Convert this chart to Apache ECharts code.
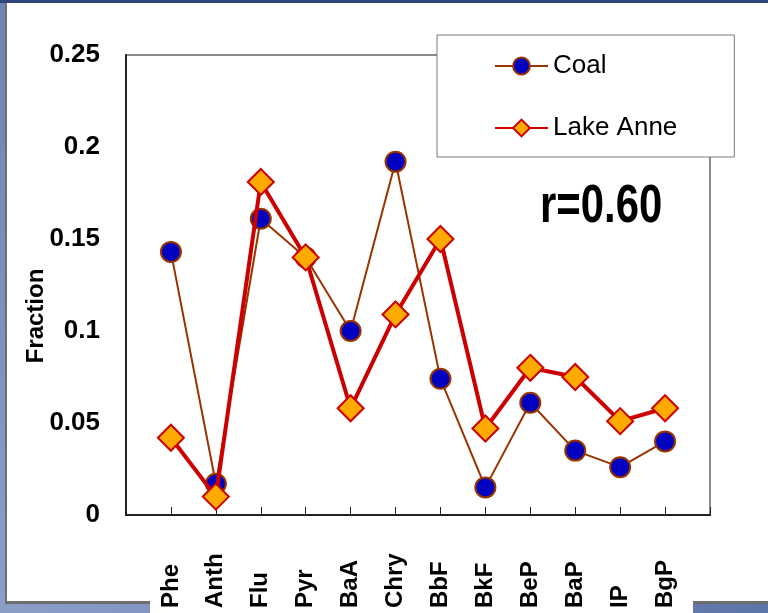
<!DOCTYPE html>
<html>
<head>
<meta charset="utf-8">
<script src="https://cdn.jsdelivr.net/npm/echarts@6/dist/echarts.min.js"></script>
<style>
html,body{margin:0;padding:0;background:#5a72a8;}
#chart{width:768px;height:613px;}
</style>
</head>
<body>
<div id="chart"></div>
<script>
// Data
const categories = ['Phe','Anth','Flu','Pyr','BaA','Chry','BbF','BkF','BeP','BaP','IP','BgP'];
const coal =      [0.143, 0.017, 0.161, 0.140, 0.100, 0.192, 0.074, 0.015, 0.061, 0.035, 0.026, 0.040];
const lakeAnne =  [0.042, 0.010, 0.181, 0.140, 0.058, 0.109, 0.150, 0.047, 0.080, 0.075, 0.051, 0.058];
const yTicks = [0, 0.05, 0.1, 0.15, 0.2, 0.25];
const seriesNames = ['Coal', 'Lake Anne'];
const annotation = 'r=0.60';

const FONT = "'Liberation Sans', Arial, sans-serif";
// pad categories so the points sit one full step inside the plot frame
const xData = [''].concat(categories, ['']);
const pad = arr => [null].concat(arr, [null]);

const chart = echarts.init(document.getElementById('chart'), null, {renderer: 'canvas'});
chart.setOption({
  animation: false,
  backgroundColor: 'transparent',
  textStyle: {fontFamily: FONT},
  graphic: [
    {type: 'rect', z: -30, shape: {x: 0, y: 0, width: 768, height: 613},
      style: {fill: new echarts.graphic.LinearGradient(0, 1, 1, 0, [
        {offset: 0, color: '#8c9ec8'}, {offset: 1, color: '#3f5a91'}])}},
    {type: 'rect', z: -29, shape: {x: 0, y: 0, width: 768, height: 3}, style: {fill: '#2c4679'}},
    {type: 'rect', z: -28, shape: {x: 5, y: 3, width: 763, height: 601}, style: {fill: '#6e6e6e'}},
    {type: 'rect', z: -27, shape: {x: 7, y: 3, width: 761, height: 598}, style: {fill: '#ffffff'}},
    {type: 'rect', z: -26, shape: {x: 150, y: 598, width: 543, height: 15}, style: {fill: '#ffffff'}},
    {type: 'text', z: 10, x: 540, y: 207, scaleX: 0.79,
      style: {text: annotation, fontSize: 53, fontWeight: 'bold', fontFamily: FONT,
        fill: '#000', align: 'left', verticalAlign: 'middle'}}
  ],
  grid: {left: 126, top: 55, right: 58, bottom: 98, show: true,
    borderColor: '#8a8a8a', borderWidth: 2, backgroundColor: 'transparent'},
  legend: {
    data: seriesNames,
    orient: 'vertical',
    left: 437, top: 35,
    backgroundColor: '#ffffff',
    borderColor: '#7a7a7a', borderWidth: 1, borderRadius: 0,
    padding: [16, 57, 14, 57],
    itemGap: 32,
    itemWidth: 53, itemHeight: 21,
    textStyle: {fontSize: 26, color: '#000', fontFamily: FONT, lineHeight: 30},
    selectedMode: false
  },
  xAxis: {
    type: 'category',
    data: xData,
    boundaryGap: false,
    axisLine: {lineStyle: {color: '#222', width: 2}},
    axisTick: {show: true, inside: true, length: 8, interval: 0, lineStyle: {color: '#222', width: 1}},
    axisLabel: {interval: 0, rotate: 90, align: 'left', margin: 93,
      fontSize: 24, fontWeight: 'bold', color: '#000', fontFamily: FONT},
    splitLine: {show: false}
  },
  yAxis: {
    type: 'value',
    min: yTicks[0], max: yTicks[yTicks.length - 1], interval: 0.05,
    axisLine: {show: true, lineStyle: {color: '#222', width: 2}},
    axisTick: {show: false},
    splitLine: {show: false},
    axisLabel: {margin: 26, fontSize: 26, fontWeight: 'bold', color: '#000', fontFamily: FONT},
    name: 'Fraction',
    nameLocation: 'middle',
    nameGap: 78,
    nameMoveOverlap: false,
    nameTextStyle: {fontSize: 24, fontWeight: 'bold', color: '#000', fontFamily: FONT,
      padding: [0, 62, 0, 0]}
  },
  series: [
    {
      name: seriesNames[0], type: 'line', data: pad(coal),
      symbol: 'circle', symbolSize: 20, connectNulls: false,
      lineStyle: {color: '#993300', width: 2},
      itemStyle: {color: '#0000c0', borderColor: '#993300', borderWidth: 2},
      z: 3
    },
    {
      name: seriesNames[1], type: 'line', data: pad(lakeAnne),
      symbol: 'diamond', symbolSize: 26,
      lineStyle: {color: '#cc0000', width: 4},
      itemStyle: {color: '#ffaa00', borderColor: '#cc0000', borderWidth: 2},
      z: 4
    }
  ]
});
</script>
</body>
</html>
